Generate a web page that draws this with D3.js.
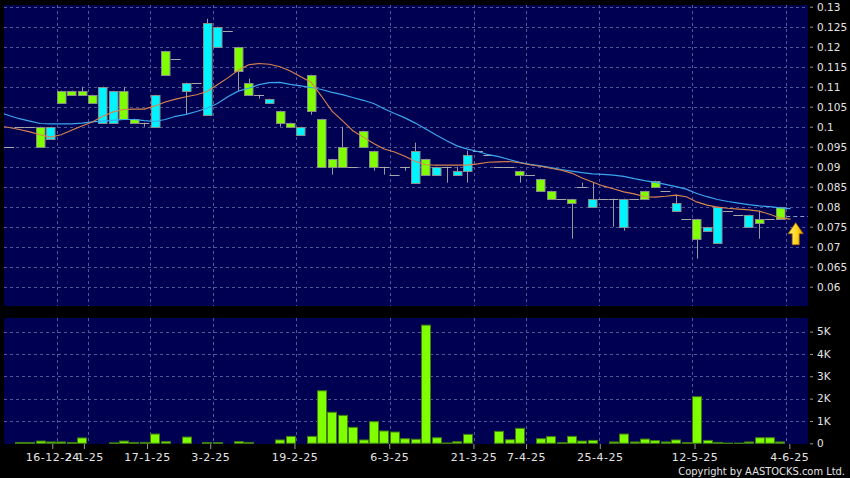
<!DOCTYPE html>
<html><head><meta charset="utf-8">
<script src="https://cdn.jsdelivr.net/npm/d3@7"></script>
<style>body{margin:0;background:#000}svg{display:block}</style>
</head><body><svg id="c" width="850" height="478"></svg>
<script>
// ---------- DATA ----------
const opens = [
0.095,0.1,0.1,0.1,0.097,0.109,0.109,0.109,0.108,0.101,
0.101,0.109,0.102,0.101,0.1,0.119,0.117,0.109,0.111,0.103,
0.12,0.124,0.12,0.111,0.108,0.106,0.104,0.101,0.098,0.113,
0.102,0.092,0.095,0.09,0.099,0.094,0.09,0.088,0.09,0.086,
0.092,0.088,0.09,0.088,0.089,0.094,0.093,0.09,0.09,0.089,
0.088,0.087,0.084,0.082,0.082,0.085,0.08,0.082,0.082,0.075,
0.082,0.084,0.0865,0.084,0.079,0.077,0.077,0.074,0.071,0.079,
0.078,0.075,0.077,0.077,0.08];
const highs = [
0.095,0.1,0.1,0.1,0.1,0.109,0.109,0.11,0.108,0.11,
0.109,0.11,0.102,0.101,0.108,0.119,0.117,0.111,0.111,0.127,
0.125,0.124,0.12,0.112,0.108,0.107,0.104,0.101,0.1,0.113,
0.102,0.092,0.1,0.09,0.099,0.094,0.09,0.088,0.09,0.096,
0.092,0.09,0.09,0.09,0.094,0.094,0.093,0.09,0.09,0.089,
0.088,0.087,0.084,0.082,0.082,0.086,0.086,0.082,0.082,0.082,
0.082,0.084,0.0865,0.084,0.083,0.077,0.077,0.075,0.08,0.079,
0.078,0.078,0.079,0.077,0.08];
const lows = [
0.095,0.1,0.1,0.095,0.097,0.106,0.108,0.108,0.106,0.101,
0.101,0.102,0.101,0.1,0.1,0.113,0.117,0.103,0.111,0.103,
0.12,0.124,0.109,0.108,0.107,0.106,0.1,0.1,0.098,0.103,
0.09,0.088,0.09,0.09,0.095,0.089,0.088,0.088,0.089,0.086,
0.088,0.088,0.086,0.088,0.086,0.094,0.093,0.09,0.09,0.086,
0.088,0.084,0.082,0.082,0.072,0.085,0.08,0.082,0.075,0.074,
0.082,0.082,0.085,0.084,0.079,0.077,0.067,0.074,0.071,0.079,
0.078,0.075,0.072,0.077,0.077];
const closes = [
0.095,0.1,0.1,0.095,0.1,0.106,0.108,0.108,0.106,0.11,
0.109,0.102,0.101,0.101,0.108,0.113,0.117,0.111,0.111,0.126,
0.125,0.124,0.114,0.108,0.108,0.107,0.101,0.1,0.1,0.104,
0.09,0.09,0.09,0.09,0.095,0.09,0.09,0.088,0.09,0.094,
0.088,0.09,0.09,0.089,0.093,0.094,0.093,0.09,0.09,0.088,
0.088,0.084,0.082,0.082,0.081,0.085,0.082,0.082,0.082,0.082,
0.082,0.082,0.085,0.084,0.081,0.077,0.072,0.075,0.08,0.079,
0.078,0.078,0.076,0.077,0.077];
const volumes = [
0,40,40,100,60,60,40,240,0,0,
20,100,40,40,415,75,0,280,0,30,
30,0,75,40,0,0,150,310,0,310,
2350,1390,1250,715,150,970,550,505,205,180,
5290,250,15,70,400,0,0,535,160,670,
0,205,300,30,310,100,130,0,60,415,
60,190,120,60,150,30,2085,130,40,10,
10,60,250,250,60];
// moving averages, starting one bar before the first candle (index -1 .. 75)
const maStart = -1;
const maShort = [
0.1002,0.0998,0.0993,0.0987,0.098,0.0974,0.098,0.0991,0.1002,0.1012,
0.1026,0.1037,0.1043,0.1044,0.1044,0.1052,0.1062,0.1069,0.1075,0.108,
0.1088,0.1105,0.1122,0.1141,0.1155,0.1158,0.1156,0.115,0.1139,0.1125,
0.1111,0.1076,0.1039,0.1015,0.099,0.0974,0.0958,0.0944,0.0937,0.0926,
0.0913,0.0905,0.0904,0.0904,0.0904,0.0904,0.0907,0.0911,0.0912,0.0913,
0.091,0.0905,0.0901,0.0896,0.0891,0.0884,0.0872,0.0862,0.0852,0.0845,
0.0837,0.0832,0.0825,0.0824,0.0826,0.0829,0.0825,0.0812,0.0804,0.0799,
0.0796,0.0794,0.0792,0.0789,0.0781,0.0772,0.0769];
const maLong = [
0.1036,0.1028,0.102,0.1014,0.1008,0.1007,0.1007,0.1007,0.1009,0.1012,
0.1014,0.1016,0.1018,0.1018,0.1015,0.1013,0.1018,0.1026,0.1031,0.1038,
0.1046,0.1058,0.1075,0.1089,0.1096,0.1105,0.111,0.1111,0.1106,0.1102,
0.1098,0.1093,0.1086,0.108,0.1073,0.1066,0.1058,0.1045,0.1033,0.1022,
0.1009,0.0994,0.0979,0.0965,0.0952,0.0944,0.0938,0.093,0.0925,0.0918,
0.0911,0.0906,0.0902,0.0898,0.0893,0.0889,0.0885,0.0882,0.0881,0.0879,
0.0876,0.087,0.0865,0.0861,0.0856,0.085,0.0844,0.0833,0.0825,0.0818,
0.0813,0.0809,0.0805,0.0802,0.08,0.0797,0.0795];
const lastPrice = 0.0778;
const dateLabels = ["16-12-24","2-1-25","17-1-25","3-2-25","19-2-25","6-3-25","21-3-25","7-4-25","25-4-25","12-5-25","4-6-25"];
const dateIndex  = [4,7,13,19,27,36,44,49,56,65,74];
const priceTicks = [0.06,0.065,0.07,0.075,0.08,0.085,0.09,0.095,0.1,0.105,0.11,0.115,0.12,0.125,0.13];
const volTicks = [0,1000,2000,3000,4000,5000];
const volTickLabels = ["0","1K","2K","3K","4K","5K"];

// ---------- LAYOUT ----------
const L = 4, R = 808;
const mainTop = 5, mainBot = 306;
const volTop = 318, volBot = 444;
const svg = d3.select("#c");
const BG = "#000052", GRID = "#4c5a96", TXT = "#e4e4e4";
const GREEN = "#80ff00", CYAN = "#00f4ff", OUTL = "#8c8c8c";

const x = d3.scaleLinear().domain([0, 74]).range([8.98, 780.06]);
const gridOff = 0.58;
const xTick = d3.scaleLinear().domain([4, 74]).range([52.3, 789.3]);
const y = d3.scaleLinear().domain([0.055, 0.13]).range([306.7, 6.7]);
const yv = d3.scaleLinear().domain([0, 5000]).range([443.3, 331.6]);

svg.append("rect").attr("width",850).attr("height",478).attr("fill","#000");
const defs = svg.append("defs");
defs.append("clipPath").attr("id","cm").append("rect").attr("x",L).attr("y",mainTop).attr("width",R-L).attr("height",mainBot-mainTop);
defs.append("clipPath").attr("id","cv").append("rect").attr("x",L).attr("y",volTop).attr("width",R-L).attr("height",volBot-volTop);
const grad = defs.append("linearGradient").attr("id","ag").attr("x1","0").attr("x2","1").attr("y1","0").attr("y2","0");
grad.append("stop").attr("offset","0").attr("stop-color","#fff27a");
grad.append("stop").attr("offset","0.6").attr("stop-color","#ffd21a");
grad.append("stop").attr("offset","1").attr("stop-color","#e89a00");

svg.append("rect").attr("x",L).attr("y",mainTop).attr("width",R-L).attr("height",mainBot-mainTop).attr("fill",BG);
svg.append("rect").attr("x",L).attr("y",volTop).attr("width",R-L).attr("height",volBot-volTop).attr("fill",BG);

// grids
const gm = svg.append("g").attr("clip-path","url(#cm)");
const gv = svg.append("g").attr("clip-path","url(#cv)");
const dash = "3,3";
gm.selectAll("line.h").data(priceTicks).join("line")
  .attr("x1",L).attr("x2",R).attr("y1",d=>Math.round(y(d))+0.5).attr("y2",d=>Math.round(y(d))+0.5)
  .attr("stroke",GRID).attr("stroke-dasharray",dash);
gm.selectAll("line.v").data(dateIndex).join("line")
  .attr("x1",d=>Math.round(x(d+gridOff))+0.5).attr("x2",d=>Math.round(x(d+gridOff))+0.5)
  .attr("y1",mainTop).attr("y2",mainBot).attr("stroke",GRID).attr("stroke-dasharray",dash);
gv.selectAll("line.h").data(volTicks.slice(1)).join("line")
  .attr("x1",L).attr("x2",R).attr("y1",d=>Math.round(yv(d))+0.5).attr("y2",d=>Math.round(yv(d))+0.5)
  .attr("stroke",GRID).attr("stroke-dasharray",dash);
gv.selectAll("line.v").data(dateIndex).join("line")
  .attr("x1",d=>Math.round(x(d+gridOff))+0.5).attr("x2",d=>Math.round(x(d+gridOff))+0.5)
  .attr("y1",volTop).attr("y2",volBot).attr("stroke",GRID).attr("stroke-dasharray",dash);

// candles
const bars = opens.map((o,i)=>({i,o,h:highs[i],l:lows[i],c:closes[i]}));
const cg = gm.append("g");
cg.selectAll("line.w").data(bars.filter(d=>d.h>d.l)).join("line")
  .attr("x1",d=>Math.round(x(d.i))+0.5).attr("x2",d=>Math.round(x(d.i))+0.5)
  .attr("y1",d=>y(d.h)).attr("y2",d=>y(d.l)).attr("stroke","#9a9a9a");
cg.selectAll("line.d").data(bars.filter(d=>d.o===d.c)).join("line")
  .attr("x1",d=>x(d.i)-5).attr("x2",d=>x(d.i)+5)
  .attr("y1",d=>Math.round(y(d.c))+0.5).attr("y2",d=>Math.round(y(d.c))+0.5).attr("stroke","#a8a8a8");
cg.selectAll("rect").data(bars.filter(d=>d.o!==d.c)).join("rect")
  .attr("x",d=>Math.round(x(d.i)-4.3)+0.5).attr("width",8.5)
  .attr("y",d=>Math.round(y(Math.max(d.o,d.c)))+0.5)
  .attr("height",d=>Math.max(1,Math.round(y(Math.min(d.o,d.c)))-Math.round(y(Math.max(d.o,d.c)))))
  .attr("fill",d=>d.c>d.o?CYAN:GREEN).attr("stroke",OUTL);

// moving averages
const maLine = d3.line().x((d,k)=>x(k+maStart)).y(d=>y(d));
gm.append("path").datum(maLong).attr("d",maLine).attr("fill","none").attr("stroke","#3aa6ee").attr("stroke-width",1.2);
gm.append("path").datum(maShort).attr("d",maLine).attr("fill","none").attr("stroke","#d8844c").attr("stroke-width",1.1);

// last price marker
gm.append("line").attr("x1",x(74.6)).attr("x2",R).attr("y1",Math.round(y(lastPrice))+0.5).attr("y2",Math.round(y(lastPrice))+0.5)
  .attr("stroke","#8a9acb").attr("stroke-dasharray","4,3");
// arrow
svg.append("path")
  .attr("transform",`translate(${x(75.5)},${y(closes[closes.length-1])+4})`)
  .attr("d","M0,0 L7.5,11 L3.5,11 L3.5,22 L-3.5,22 L-3.5,11 L-7.5,11 Z")
  .attr("fill","url(#ag)").attr("stroke","#b86a00").attr("stroke-width",0.8);

// volume bars
gv.selectAll("rect").data(volumes.map((v,i)=>({i,v})).filter(d=>d.v>0)).join("rect")
  .attr("x",d=>Math.round(x(d.i)-4.6)+0.5).attr("width",9)
  .attr("y",d=>yv(d.v)).attr("height",d=>Math.max(1,yv(0)-yv(d.v)))
  .attr("fill",GREEN).attr("stroke","#3f7d10");

// axes
const font = "DejaVu Sans, sans-serif";
const pa = svg.append("g").attr("transform",`translate(${R+2},0)`)
  .call(d3.axisRight(y).tickValues(priceTicks).tickFormat(d=>String(+d.toFixed(3))).tickSize(3).tickPadding(4));
const va = svg.append("g").attr("transform",`translate(${R+2},0)`)
  .call(d3.axisRight(yv).tickValues(volTicks).tickFormat((d,k)=>volTickLabels[k]).tickSize(3).tickPadding(4));
const ba = svg.append("g").attr("transform",`translate(0,${volBot})`)
  .call(d3.axisBottom(xTick).tickValues(dateIndex).tickFormat((d,k)=>dateLabels[k]).tickSize(5).tickPadding(4));
[pa,va,ba].forEach(g=>{
  g.select(".domain").remove();
  g.selectAll(".tick line").attr("stroke","#9a9a9a");
  g.selectAll("text").attr("fill",TXT).style("font-family",font).style("font-size","10.5px");
});
ba.selectAll("text").style("font-size","11px").style("letter-spacing","0.5px");

svg.append("text").attr("x",845).attr("y",475).attr("text-anchor","end")
  .attr("fill",TXT).style("font-family","DejaVu Sans Condensed, DejaVu Sans, sans-serif").style("font-size","11px")
  .text("Copyright by AASTOCKS.com Ltd.");
</script></body></html>
